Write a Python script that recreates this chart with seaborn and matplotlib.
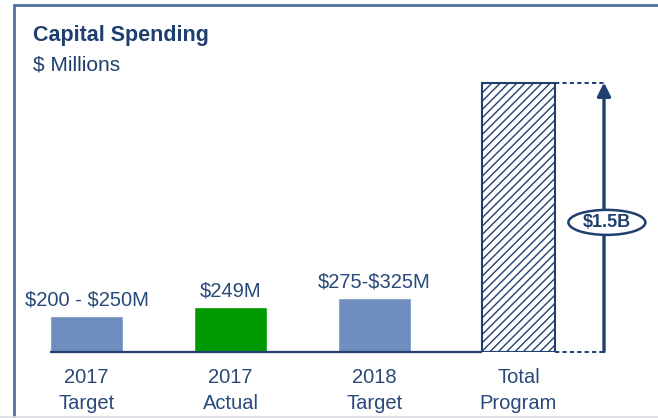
import matplotlib
matplotlib.use("Agg")
import matplotlib.pyplot as plt
import seaborn as sns
import pandas as pd
from matplotlib.lines import Line2D
from matplotlib.patches import Ellipse

# Capital spending, $ millions
categories = ["2017\nTarget", "2017\nActual", "2018\nTarget", "Total\nProgram"]
spend = [200, 249, 300, 1500]
value_labels = ["$200 - $250M", "$249M", "$275-$325M"]
total_label = "$1.5B"

NAVY = "#1F3F6E"
TEXT = "#274A7A"
FRAME = "#4D729C"
BAR_BLUE = "#6F8EBF"
GREEN = "#009A00"

sns.set_theme(style="white")
plt.rcParams["font.family"] = ["Liberation Sans", "DejaVu Sans"]
plt.rcParams["hatch.linewidth"] = 1.0
plt.rcParams["hatch.color"] = NAVY

W, H = 658, 418
fig = plt.figure(figsize=(W / 100, H / 100), dpi=100)
fig.patch.set_facecolor("white")

# axes: bottom edge on the bar baseline, top edge on the frame line
ax = fig.add_axes([14 / W, (H - 351.5) / H, (W - 14) / W, (351.5 - 5) / H])

df = pd.DataFrame({"cat": categories, "spend": spend})
sns.barplot(data=df, x="cat", y="spend", hue="cat", legend=False,
            palette=[BAR_BLUE, GREEN, BAR_BLUE, "white"], width=0.507,
            saturation=1, ax=ax)

px_per_unit = 144.0
ax.set_xlim((14 - 86.5) / px_per_unit, (W - 86.5) / px_per_unit)
ax.set_ylim(0, 346.5 * spend[-1] / 269.0)
for s in ax.spines.values():
    s.set_visible(False)
ax.set_yticks([])
ax.set_xlabel("")
ax.set_ylabel("")
ax.tick_params(axis="x", length=0, pad=12, labelsize=14.5, labelcolor=TEXT)
for lbl in ax.get_xticklabels():
    lbl.set_linespacing(1.45)

bars = ax.patches
total_bar = bars[3]
total_bar.set_facecolor("white")
total_bar.set_edgecolor(NAVY)
total_bar.set_hatch("////")
total_bar.set_linewidth(1.5)

# baseline under the bars
ax.plot([bars[0].get_x(), total_bar.get_x()], [0, 0], color=NAVY, lw=1.6,
        solid_capstyle="butt", clip_on=False, zorder=3)

# value labels above the first three bars
for bar, lab in zip(bars[:3], value_labels):
    ax.annotate(lab, (bar.get_x() + bar.get_width() / 2, bar.get_height()),
                xytext=(0, 7.5), textcoords="offset points", ha="center",
                va="baseline", fontsize=14.5, color=TEXT, parse_math=False)

# dimension marker for the total program
right = total_bar.get_x() + total_bar.get_width()
arrow_x = right + 49 / px_per_unit
for yv in (0, spend[-1]):
    ax.plot([right, arrow_x], [yv, yv], color=NAVY, lw=1.4,
            linestyle=(0, (2.2, 1.6)), clip_on=False, zorder=3)
ax.annotate("", xy=(arrow_x, spend[-1]), xytext=(arrow_x, 0),
            arrowprops=dict(arrowstyle="-|>", lw=2.4, color=NAVY,
                            mutation_scale=20, shrinkA=0, shrinkB=0),
            zorder=4)
ell_y = 720
ax.add_patch(Ellipse((arrow_x + 0.02, ell_y), width=77 / px_per_unit,
                     height=25 * spend[-1] / 269.0, facecolor="white",
                     edgecolor=NAVY, lw=1.8, zorder=5))
ax.text(arrow_x + 0.02, ell_y, total_label, ha="center", va="center",
        fontsize=13, fontweight="bold", color=NAVY, zorder=6,
        parse_math=False)

# title block
fig.text(33 / W, 1 - 41 / H, "Capital Spending", fontsize=15.5,
         fontweight="bold", color=NAVY, va="baseline", ha="left")
fig.text(33 / W, 1 - 70.5 / H, "$ Millions", fontsize=15, color=NAVY,
         va="baseline", ha="left", parse_math=False)

# panel frame: top and left rules, faint bottom rule
fig.add_artist(Line2D([13.5 / W, 1], [1 - 5 / H, 1 - 5 / H], color=FRAME,
                      lw=2.0, transform=fig.transFigure))
fig.add_artist(Line2D([14 / W, 14 / W], [0, 1 - 5 / H], color=FRAME,
                      lw=2.0, transform=fig.transFigure))
fig.add_artist(Line2D([0, 1], [1.5 / H, 1.5 / H], color="#DADDE2",
                      lw=1.2, transform=fig.transFigure))

fig.savefig("out.png", dpi=100, facecolor="white")
